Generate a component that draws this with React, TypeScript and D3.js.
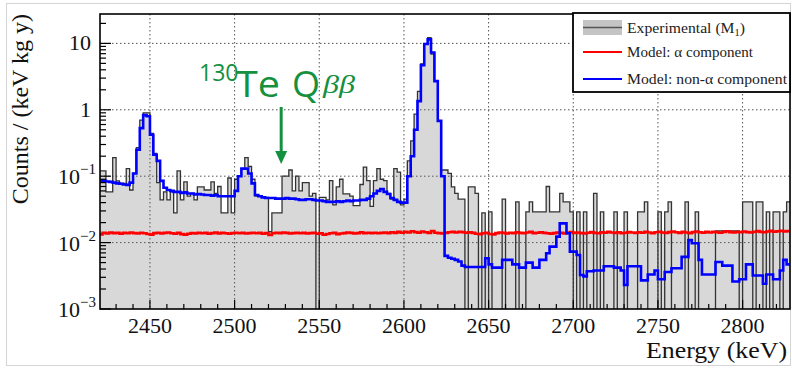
import React from 'react';
import * as d3 from 'd3';

// ---------- DATA ----------
const BIN_START = 2420; // keV
const BIN_WIDTH = 2; // keV
const Q_BB = 2527.5; // keV, 130Te Q-value

// Experimental (M1) counts / (keV kg y), 2 keV bins from 2420 keV
const experimental = [
  0.12, 0.12, 0.058, 0.058, 0.19, 0.085, 0.078, 0.078, 0.13, 0.062, // 2420
  0.11, 0.27, 0.7, 0.9, 0.9, 0.44, 0.22, 0.08, 0.044, 0.058, // 2440
  0.044, 0.058, 0.028, 0.12, 0.044, 0.082, 0.05, 0.055, 0.044, 0.069, // 2460
  0.069, 0.062, 0.062, 0.082, 0.055, 0.07, 0.028, 0.028, 0.094, 0.028, // 2480
  0.09, 0.1, 0.13, 0.19, 0.14, 0.09, 0.05, 0.05, 0.048, 0.048, // 2500
  0.0146, 0.028, 0.028, 0.028, 0.1, 0.1, 0.124, 0.06, 0.1, 0.06, // 2520
  0.08, 0.08, 0.05, 0.055, 0, 0.048, 0.048, 0.044, 0.086, 0.037, // 2540
  0.069, 0.09, 0.054, 0.054, 0.05, 0.036, 0.036, 0.075, 0.137, 0.086, // 2560
  0.035, 0.086, 0.13, 0.09, 0.086, 0.055, 0.045, 0.13, 0.115, 0.037, // 2580
  0.045, 0.17, 0.34, 0.86, 1.9, 4.9, 9.8, 12.2, 6.9, 2.7, // 2600
  0.68, 0.124, 0.124, 0.11, 0.069, 0.055, 0.045, 0.045, 0, 0.069, // 2620
  0.069, 0.055, 0, 0.028, 0, 0.029, 0, 0, 0, 0.045, // 2640
  0, 0, 0, 0.041, 0, 0, 0.029, 0.041, 0.029, 0.029, // 2660
  0.029, 0.029, 0.07, 0.029, 0.029, 0.029, 0.055, 0.041, 0.041, 0.029, // 2680
  0, 0.029, 0, 0.029, 0, 0, 0.055, 0, 0.029, 0, // 2700
  0, 0, 0.029, 0, 0, 0.029, 0, 0, 0, 0.029, // 2720
  0.029, 0.041, 0, 0, 0, 0.029, 0, 0.029, 0.041, 0, // 2740
  0, 0, 0, 0.041, 0, 0, 0.029, 0, 0, 0, // 2760
  0, 0, 0.015, 0.015, 0.015, 0.015, 0.015, 0.015, 0.015, 0, // 2780
  0.041, 0.041, 0.041, 0, 0.041, 0.041, 0, 0.029, 0, 0.029, // 2800
  0.029, 0, 0.029, 0.041, // 2820
];

// Model: non-alpha component
const modelNonAlpha = [
  0.086, 0.085, 0.083, 0.082, 0.08, 0.078, 0.077, 0.075, 0.074, 0.08, // 2420
  0.11, 0.25, 0.53, 0.83, 0.8, 0.42, 0.21, 0.17, 0.085, 0.067, // 2440
  0.062, 0.06, 0.058, 0.058, 0.056, 0.057, 0.055, 0.055, 0.053, 0.054, // 2460
  0.053, 0.052, 0.052, 0.051, 0.052, 0.05, 0.05, 0.05, 0.05, 0.05, // 2480
  0.06, 0.1, 0.13, 0.13, 0.11, 0.078, 0.052, 0.05, 0.048, 0.047, // 2500
  0.047, 0.047, 0.046, 0.046, 0.046, 0.047, 0.046, 0.046, 0.045, 0.044, // 2520
  0.044, 0.045, 0.045, 0.044, 0.043, 0.043, 0.042, 0.041, 0.041, 0.041, // 2540
  0.042, 0.041, 0.042, 0.043, 0.042, 0.043, 0.043, 0.044, 0.044, 0.046, // 2560
  0.05, 0.055, 0.06, 0.064, 0.058, 0.054, 0.047, 0.044, 0.041, 0.04, // 2580
  0.04, 0.1, 0.2, 0.5, 1.35, 4.7, 9.8, 11.5, 7.3, 2.7, // 2600
  0.68, 0.1, 0.0063, 0.0059, 0.0057, 0.0055, 0.0052, 0.0045, 0.0043, 0.0043, // 2620
  0.0043, 0.0043, 0.0043, 0.0043, 0.0058, 0.0047, 0.0042, 0.0042, 0.0042, 0.0055, // 2640
  0.0055, 0.0055, 0.0047, 0.0047, 0.0042, 0.0042, 0.005, 0.005, 0.0042, 0.0042, // 2660
  0.0055, 0.0055, 0.0069, 0.0087, 0.0087, 0.0123, 0.0195, 0.0195, 0.0138, 0.0073, // 2680
  0.0073, 0.0065, 0.00325, 0.0031, 0.0037, 0.0037, 0.0038, 0.0038, 0.0038, 0.0044, // 2700
  0.0044, 0.0044, 0.0042, 0.0042, 0.0038, 0.0023, 0.0044, 0.0044, 0.0044, 0.0044, // 2720
  0.0027, 0.0027, 0.0033, 0.0033, 0.0038, 0.0028, 0.0028, 0.0036, 0.0036, 0.0041, // 2740
  0.0041, 0.0041, 0.0061, 0.0061, 0.0109, 0.0098, 0.0098, 0.0055, 0.0033, 0.0033, // 2760
  0.0033, 0.0033, 0.0051, 0.0051, 0.0045, 0.0045, 0.0045, 0.0026, 0.0026, 0.0028, // 2780
  0.0028, 0.0047, 0.0047, 0.0032, 0.0032, 0.0032, 0.0024, 0.0033, 0.0033, 0.0028, // 2800
  0.0028, 0.0038, 0.0055, 0.0047, // 2820
];

// Model: alpha component
const modelAlpha = [
  0.0133, 0.014, 0.0137, 0.0142, 0.0139, 0.0141, 0.0136, 0.014, 0.0138, 0.0142, // 2420
  0.0139, 0.0137, 0.0141, 0.0138, 0.0135, 0.0132, 0.0139, 0.0141, 0.0137, 0.014, // 2440
  0.0142, 0.0138, 0.0136, 0.014, 0.0134, 0.0131, 0.0136, 0.0139, 0.0137, 0.0141, // 2460
  0.0138, 0.014, 0.0136, 0.0139, 0.0142, 0.0137, 0.014, 0.0138, 0.0136, 0.0139, // 2480
  0.0141, 0.0138, 0.014, 0.0137, 0.0139, 0.0141, 0.0138, 0.014, 0.0136, 0.0139, // 2500
  0.013, 0.0138, 0.0141, 0.0139, 0.0142, 0.014, 0.0137, 0.0139, 0.0141, 0.0138, // 2520
  0.014, 0.0137, 0.0139, 0.0141, 0.0136, 0.0138, 0.0131, 0.0135, 0.0138, 0.014, // 2540
  0.0134, 0.0137, 0.0139, 0.0142, 0.014, 0.0137, 0.0139, 0.0143, 0.0138, 0.0141, // 2560
  0.0139, 0.0141, 0.0138, 0.014, 0.0142, 0.0139, 0.0143, 0.014, 0.0145, 0.0141, // 2580
  0.0146, 0.0142, 0.0148, 0.0144, 0.0141, 0.0147, 0.0143, 0.014, 0.0149, 0.0141, // 2600
  0.0139, 0.0137, 0.014, 0.0143, 0.0145, 0.0142, 0.0146, 0.0144, 0.0141, 0.0143, // 2620
  0.014, 0.0136, 0.0134, 0.0138, 0.0141, 0.0135, 0.0133, 0.0139, 0.0142, 0.014, // 2640
  0.0137, 0.0141, 0.0139, 0.0143, 0.014, 0.0138, 0.0142, 0.0145, 0.0139, 0.0141, // 2660
  0.0143, 0.014, 0.0138, 0.0136, 0.0139, 0.0142, 0.014, 0.0137, 0.0141, 0.0144, // 2680
  0.014, 0.0142, 0.0139, 0.0137, 0.0141, 0.0144, 0.014, 0.0138, 0.0143, 0.0141, // 2700
  0.0145, 0.0142, 0.014, 0.0143, 0.0139, 0.0141, 0.0144, 0.0142, 0.014, 0.0143, // 2720
  0.0141, 0.0145, 0.0142, 0.0139, 0.0143, 0.0146, 0.0142, 0.014, 0.0144, 0.0147, // 2740
  0.0143, 0.014, 0.0145, 0.0142, 0.0139, 0.0144, 0.0147, 0.0143, 0.0141, 0.0145, // 2760
  0.0142, 0.0146, 0.0143, 0.0141, 0.0145, 0.0148, 0.0144, 0.0142, 0.0146, 0.0143, // 2780
  0.0147, 0.0144, 0.0142, 0.0146, 0.0149, 0.0145, 0.0143, 0.0147, 0.015, 0.0146, // 2800
  0.0148, 0.0151, 0.0147, 0.0149, // 2820
];

const xTickValues = [2450, 2500, 2550, 2600, 2650, 2700, 2750, 2800];
const yDecades = [1e-3, 1e-2, 1e-1, 1, 10];
const yDecadeLabels: [string, string | null][] = [
  ['10', '\u22123'],
  ['10', '\u22122'],
  ['10', '\u22121'],
  ['1', null],
  ['10', null],
];
const legendLabels = ['Experimental (M', 'Model: \u03b1 component', 'Model: non-\u03b1 component'];

// ---------- LAYOUT ----------
const W = 792;
const H = 371;
const PL = 100;
const PR = 790;
const PT = 14;
const PB = 309;
const SERIF = "'Liberation Serif', 'Times New Roman', serif";
const SANS = "'Open Sans', Lato, sans-serif";
const GREEN = '#14903e';
const GREY_FILL = '#d8d8d8';

export default function App() {
  const x = d3.scaleLinear().domain([2420.5, 2828]).range([PL, PR]);
  const y = d3.scaleLog().domain([1e-3, 27.7]).range([PB, PT]);

  const stepPts = (vals: number[]): [number, number][] => {
    const pts: [number, number][] = [];
    vals.forEach((v, i) => {
      const e0 = BIN_START + i * BIN_WIDTH;
      const yy = v > 0 ? y(v) : PB + 3;
      pts.push([x(e0), yy], [x(e0 + BIN_WIDTH), yy]);
    });
    return pts;
  };

  const line = d3.line<[number, number]>();
  const area = d3
    .area<[number, number]>()
    .x((d) => d[0])
    .y0(PB)
    .y1((d) => d[1]);

  const expPts = stepPts(experimental);
  const alphaPts = stepPts(modelAlpha);
  const nonAlphaPts = stepPts(modelNonAlpha);

  const xMinor = d3.range(2430, 2828, 10).filter((v) => v % 50 !== 0);
  const yMinor: number[] = [];
  yDecades.forEach((d) => {
    for (let k = 2; k <= 9; k++) {
      const v = d * k;
      if (v <= 27.7) yMinor.push(v);
    }
  });

  const qx = x(Q_BB);

  return (
    <svg
      width={W}
      height={H}
      style={{ position: 'absolute', left: 0, top: 0, background: '#fff' }}
      xmlns="http://www.w3.org/2000/svg"
    >
      <defs>
        <clipPath id="plotclip">
          <rect x={PL} y={PT} width={PR - PL} height={PB - PT} />
        </clipPath>
      </defs>
      <rect x={0} y={0} width={W} height={H} fill="#fff" />
      <rect x={6.5} y={3.5} width={784} height={362} fill="none" stroke="#d4d4d4" strokeWidth={1} />

      <g clipPath="url(#plotclip)">
        <path d={area(alphaPts) || ''} fill={GREY_FILL} />
        <path d={area(expPts) || ''} fill={GREY_FILL} />
        {/* grid */}
        {xTickValues.map((t) => (
          <line key={'gx' + t} x1={x(t)} x2={x(t)} y1={PT} y2={PB} stroke="#555" strokeWidth={1} strokeDasharray="1.5 2.5" />
        ))}
        {yDecades.slice(1).map((t) => (
          <line key={'gy' + t} x1={PL} x2={PR} y1={y(t)} y2={y(t)} stroke="#555" strokeWidth={1} strokeDasharray="1.5 2.5" />
        ))}
        <path d={line(expPts) || ''} fill="none" stroke="#333" strokeWidth={1.3} />
        <path d={line(alphaPts) || ''} fill="none" stroke="#ff0000" strokeWidth={2.6} />
        <path d={line(nonAlphaPts) || ''} fill="none" stroke="#0000ff" strokeWidth={2.6} />
      </g>

      {/* ticks */}
      {xTickValues.map((t) => (
        <line key={'tx' + t} x1={x(t)} x2={x(t)} y1={PB} y2={PB - 9} stroke="#000" strokeWidth={1.2} />
      ))}
      {xMinor.map((t) => (
        <line key={'txm' + t} x1={x(t)} x2={x(t)} y1={PB} y2={PB - 5} stroke="#000" strokeWidth={1.2} />
      ))}
      {yDecades.map((t) => (
        <line key={'ty' + t} x1={PL} x2={PL + 11} y1={y(t)} y2={y(t)} stroke="#000" strokeWidth={1.2} />
      ))}
      {yMinor.map((t) => (
        <line key={'tym' + t} x1={PL} x2={PL + 6} y1={y(t)} y2={y(t)} stroke="#000" strokeWidth={1.2} />
      ))}

      {/* frame */}
      <rect x={PL} y={PT} width={PR - PL} height={PB - PT} fill="none" stroke="#000" strokeWidth={1.6} />

      {/* x tick labels */}
      {xTickValues.map((t) => (
        <text key={'lx' + t} x={x(t)} y={333} textAnchor="middle" fontFamily={SERIF} fontSize={22} fill="#111">
          {t}
        </text>
      ))}
      {/* y tick labels */}
      {yDecades.map((t, i) => {
        const [base, exp] = yDecadeLabels[i];
        return exp ? (
          <text key={'ly' + t} x={96} y={y(t) + 8} textAnchor="end" fontFamily={SERIF} fontSize={22} fill="#111">
            <tspan>{base}</tspan>
            <tspan dy={-10} fontSize={15}>{exp}</tspan>
          </text>
        ) : (
          <text key={'ly' + t} x={91} y={y(t) + 7} textAnchor="end" fontFamily={SERIF} fontSize={22} fill="#111">
            {base}
          </text>
        );
      })}

      {/* axis titles */}
      <text
        x={787}
        y={358}
        textAnchor="end"
        fontFamily={SERIF}
        fontSize={24}
        fill="#111"
        textLength={141}
        lengthAdjust="spacingAndGlyphs"
      >
        Energy (keV)
      </text>
      <text
        transform="translate(28,14) rotate(-90)"
        textAnchor="end"
        fontFamily={SERIF}
        fontSize={24}
        fill="#111"
      >
        Counts / (keV kg y)
      </text>

      {/* annotation */}
      <text x={199} y={81} fontFamily={SANS} fontSize={23} fill={GREEN}>
        130
      </text>
      <text x={236} y={97} fontFamily={SANS} fontSize={36} fill={GREEN} textLength={44} lengthAdjust="spacingAndGlyphs">
        Te
      </text>
      <text x={292} y={97} fontFamily={SANS} fontSize={36} fill={GREEN}>
        Q
      </text>
      <text
        x={323}
        y={93}
        fontFamily={SERIF}
        fontStyle="italic"
        fontSize={25}
        fill={GREEN}
        textLength={32}
        lengthAdjust="spacingAndGlyphs"
      >
        {'\u03b2\u03b2'}
      </text>
      <line x1={qx} x2={qx} y1={107} y2={153} stroke={GREEN} strokeWidth={3} />
      <path d={`M${qx - 6},${151} L${qx + 6},${151} L${qx},${164} Z`} fill={GREEN} />

      {/* legend */}
      <rect x={573} y={13} width={217} height={79} fill="#fff" stroke="#000" strokeWidth={1.8} />
      <rect x={583} y={20} width={39} height={15} fill="#c4c4c4" />
      <line x1={583} x2={622} y1={27.5} y2={27.5} stroke="#555" strokeWidth={1.5} />
      <text x={627} y={33} fontFamily={SERIF} fontSize={15} fill="#222" textLength={118} lengthAdjust="spacingAndGlyphs">
        <tspan>{legendLabels[0]}</tspan>
        <tspan dy={3} fontSize={10}>1</tspan>
        <tspan dy={-3}>)</tspan>
      </text>
      <line x1={583} x2={622} y1={52} y2={52} stroke="#ff0000" strokeWidth={2} />
      <text x={627} y={57} fontFamily={SERIF} fontSize={15} fill="#222" textLength={126} lengthAdjust="spacingAndGlyphs">
        {legendLabels[1]}
      </text>
      <line x1={583} x2={622} y1={79} y2={79} stroke="#0000ff" strokeWidth={2} />
      <text x={627} y={84} fontFamily={SERIF} fontSize={15} fill="#222" textLength={160} lengthAdjust="spacingAndGlyphs">
        {legendLabels[2]}
      </text>
    </svg>
  );
}
